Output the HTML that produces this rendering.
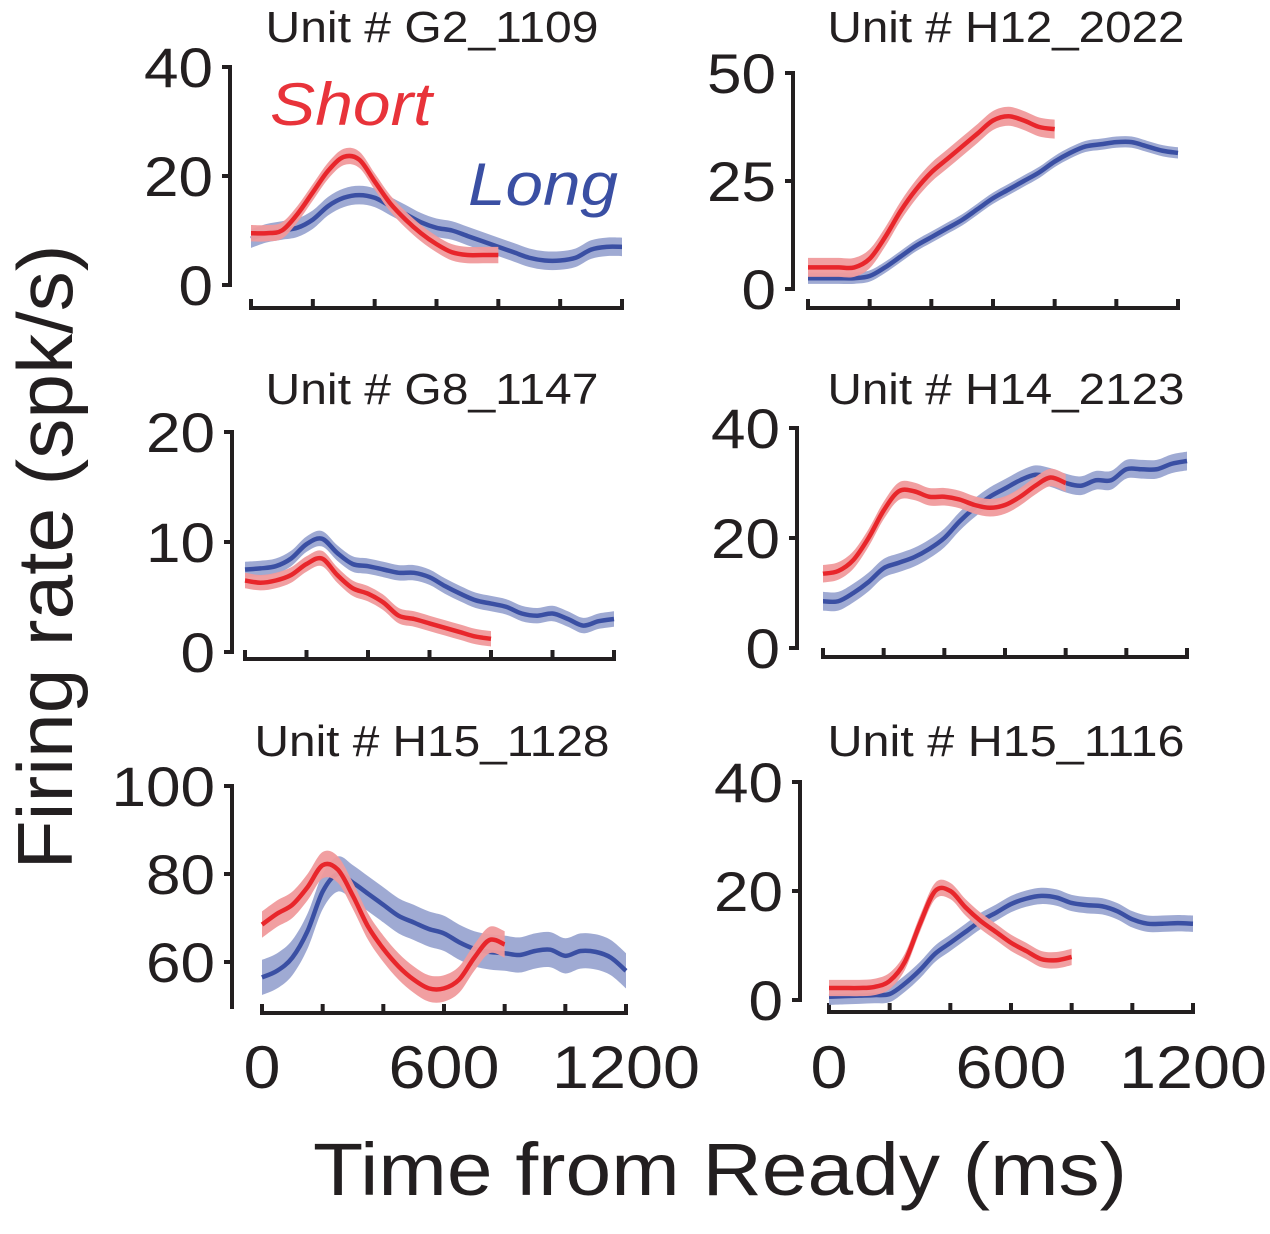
<!DOCTYPE html>
<html><head><meta charset="utf-8"><style>
body{margin:0;background:#fff;}
svg{display:block;font-family:"Liberation Sans",Arial,sans-serif;}
</style></head><body>
<svg id="fig" width="1270" height="1234" viewBox="0 0 1270 1234" xmlns="http://www.w3.org/2000/svg">
<text x="0" y="0" transform="translate(72,557) rotate(-90)" text-anchor="middle" font-size="78" fill="#231f20" textLength="625" lengthAdjust="spacingAndGlyphs">Firing rate (spk/s)</text>
<text x="720" y="1195" text-anchor="middle" font-size="74" fill="#231f20" textLength="814" lengthAdjust="spacingAndGlyphs">Time from Ready (ms)</text>
<text x="270" y="125" font-size="60" font-style="italic" fill="#e8333a" textLength="162" lengthAdjust="spacingAndGlyphs">Short</text>
<text x="468" y="205" font-size="60" font-style="italic" fill="#3a4fa3" textLength="150" lengthAdjust="spacingAndGlyphs">Long</text>
</svg>
<script>
const tShort=[0,50,100,150,200,250,300,350,400,450,500,550,600,650,700,750,800];
const tLong=[0,50,100,150,200,250,300,350,400,450,500,550,600,650,700,750,800,850,900,950,1000,1050,1100,1150,1200];
const titles=["Unit # G2_1109","Unit # H12_2022","Unit # G8_1147","Unit # H14_2123","Unit # H15_1128","Unit # H15_1116"];
const yTicks=[[0,20,40],[0,25,50],[0,10,20],[0,20,40],[60,80,100],[0,20,40]];
const xTickLabels=["0","600","1200"];
const xTickVals=[0,600,1200];
const short1=[9.5,9.5,10,13,17,21,23.5,23,19,15,12,9.5,7.5,6,5.5,5.5,5.5];
const long1=[8.5,9.5,10,10.5,12,14.5,16,16.5,16,14.5,13,11.5,10.5,10,9,8,7,6,5,4.5,4.5,5,6.5,7,7];
const short2=[5,5,5,5,7,12,18,23,27,30,33,36,39,40,39,37.5,37];
const long2=[2.5,2.5,2.5,2.5,3,5,7.5,10,12,14,16,18.5,21,23,25,27,29.5,31.5,33,33.5,34,34,33,32,31.5];
const short3=[6.5,6.3,6.5,7,8,8.5,7,5.8,5.3,4.5,3.3,3,2.6,2.2,1.8,1.4,1.2];
const long3=[7.5,7.6,7.8,8.5,9.8,10.3,9,8,7.8,7.5,7.2,7.2,6.8,6,5.3,4.7,4.4,4.1,3.5,3.3,3.5,3,2.4,2.8,3];
const short4=[13.5,14,16,20,25,28.5,28.5,27.5,27.5,27,26,25.5,26,27.5,29.5,31,30];
const long4=[8.5,8.5,10,12,14.5,15.5,16.5,18,20,23,25.5,27.5,29,30.5,31.5,31,30,29.5,30.5,30.5,32.5,32.5,32.5,33.5,34];
const short5=[68.5,71,73,77,82,81,75,68,63,59,56,54,54,56,61,65,64];
const long5=[56.5,58,61,67,76,80,78,75.5,73,70.5,69,67.5,66.5,64.5,63,62.3,62,61.6,62.5,62.8,61.4,62.5,62.3,61,58];
const short6=[2.2,2.2,2.2,2.4,3.5,7,14,20,20,17,14.5,12.5,10.5,9,7.5,7.3,7.9];
const long6=[0.6,0.7,0.8,0.9,1.1,3,5.5,8.5,10.5,12.5,14.5,16,17.6,18.6,19.1,18.8,17.8,17.4,17.2,16.3,14.8,14,14,14.1,14];
const semShort=[1.5,2.2,0.7,1.6,3,1.5];
const semLong=[1.7,1.3,0.7,1.7,4,1.5];
const shorts=[short1,short2,short3,short4,short5,short6];
const longs=[long1,long2,long3,long4,long5,long6];
// layout (pixels)
const L=[
 {ax:230,yTop:67,yBot:285,yMin:0,yMax:40,xa:251,xb:622,xy:308,tx:432,ty:42,tw:333},
 {ax:793,yTop:73,yBot:289,yMin:0,yMax:50,xa:808,xb:1178,xy:308,tx:1006,ty:42,tw:357},
 {ax:232,yTop:432,yBot:652,yMin:0,yMax:20,xa:245,xb:614,xy:659,tx:432,ty:404,tw:333},
 {ax:797,yTop:428,yBot:648,yMin:0,yMax:40,xa:823,xb:1187,xy:657,tx:1006,ty:404,tw:357},
 {ax:232,yTop:786,yBot:962,yMin:60,yMax:100,xa:262,xb:626,xy:1013,tx:432,ty:756,tw:355,axBot:1007},
 {ax:800,yTop:782,yBot:1000,yMin:0,yMax:40,xa:829,xb:1193,xy:1012,tx:1006,ty:756,tw:357}
];
const NS="http://www.w3.org/2000/svg";
const svg=document.getElementById('fig');
function mk(tag,attrs){const e=document.createElementNS(NS,tag);for(const k in attrs)e.setAttribute(k,attrs[k]);svg.appendChild(e);return e;}
function smooth(pts,move){
  let d=move?'M'+pts[0][0]+','+pts[0][1]:'L'+pts[0][0]+','+pts[0][1];
  for(let i=0;i<pts.length-1;i++){
    const p0=pts[Math.max(0,i-1)],p1=pts[i],p2=pts[i+1],p3=pts[Math.min(pts.length-1,i+2)];
    const c1=[p1[0]+(p2[0]-p0[0])/6,p1[1]+(p2[1]-p0[1])/6];
    const c2=[p2[0]-(p3[0]-p1[0])/6,p2[1]-(p3[1]-p1[1])/6];
    d+=' C'+c1[0]+','+c1[1]+' '+c2[0]+','+c2[1]+' '+p2[0]+','+p2[1];
  }
  return d;
}
function digitLen(s,perChar){return s.length*perChar;}
L.forEach((p,i)=>{
  const xs=t=>p.xa+(t/1200)*(p.xb-p.xa);
  const ys=v=>p.yBot-(v-p.yMin)/(p.yMax-p.yMin)*(p.yBot-p.yTop);
  const tt=mk('text',{x:p.tx,y:p.ty,'text-anchor':'middle','font-size':44,fill:'#231f20',textLength:p.tw,lengthAdjust:'spacingAndGlyphs'});tt.textContent=titles[i];
  
  
  const ya=mk('line',{x1:p.ax,x2:p.ax,y1:p.yTop-2,y2:(p.axBot||p.yBot)+2,stroke:'#231f20','stroke-width':4});
  
  
  yTicks[i].forEach(v=>{
    const tk=mk('line',{x1:p.ax-8,x2:p.ax,y1:ys(v),y2:ys(v),stroke:'#231f20','stroke-width':4});
    
    
    const s=String(v);
    const lb=mk('text',{x:p.ax-17,y:ys(v)+20,'text-anchor':'end','font-size':56,fill:'#231f20',textLength:digitLen(s,34.5),lengthAdjust:'spacingAndGlyphs'});lb.textContent=s;
    
    
  });
  const xa=mk('line',{x1:p.xa-2,x2:p.xb+2,y1:p.xy,y2:p.xy,stroke:'#231f20','stroke-width':4});
  
  
  for(let t=0;t<=1200;t+=200){
    const tk=mk('line',{x1:xs(t),x2:xs(t),y1:p.xy-9,y2:p.xy,stroke:'#231f20','stroke-width':4});
    
    
  }
  if(i>=4){xTickVals.forEach((v,k)=>{
    const s=xTickLabels[k];
    const lb=mk('text',{x:xs(v),y:1088,'text-anchor':'middle','font-size':60,fill:'#231f20',textLength:digitLen(s,37),lengthAdjust:'spacingAndGlyphs'});lb.textContent=s;
    
    
  });}
  [[tLong,longs[i],semLong[i],'#9aa5d1','#3a4fa3','long'],[tShort,shorts[i],semShort[i],'#f09a9c','#e8262b','short']].forEach(s=>{
    const [T,V,se,bc,lc,nm]=s;
    const up=T.map((t,k)=>[xs(t),ys(V[k]+se)]);
    const dn=T.map((t,k)=>[xs(t),ys(V[k]-se)]).reverse();
    const band=mk('path',{d:smooth(up,true)+' '+smooth(dn,false)+' Z',fill:bc,'fill-opacity':0.95,'stroke':'none'});
    
    
    const ln=mk('path',{d:smooth(T.map((t,k)=>[xs(t),ys(V[k])]),true),fill:'none',stroke:lc,'stroke-width':4.5,'stroke-linejoin':'round','stroke-linecap':'butt'});
    
    
  });
});
</script>
</body></html>
